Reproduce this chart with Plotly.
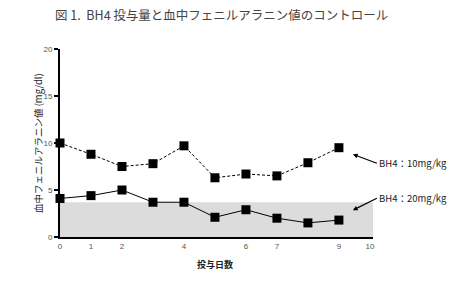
import plotly.graph_objects as go

days = [0, 1, 2, 3, 4, 5, 6, 7, 8, 9]
dose10 = [10.0, 8.8, 7.5, 7.8, 9.7, 6.3, 6.7, 6.5, 7.9, 9.5]
dose20 = [4.1, 4.4, 5.0, 3.7, 3.7, 2.1, 2.9, 2.0, 1.5, 1.8]
xticks = [0, 1, 2, 4, 6, 7, 9, 10]
yticks = [0, 5, 10, 15, 20]
normal_upper = 3.7

JP = "Noto Sans CJK JP"

fig = go.Figure()
fig.add_shape(type="rect", xref="x", yref="y", x0=0, x1=10.1, y0=0, y1=normal_upper,
              fillcolor="#dcdcdc", line=dict(width=0), layer="below")

fig.add_trace(go.Scatter(x=days, y=dose10, mode="lines+markers", cliponaxis=False,
                         line=dict(color="black", width=1, dash="3px,2px"),
                         marker=dict(symbol="square", size=9, color="black")))
fig.add_trace(go.Scatter(x=days, y=dose20, mode="lines+markers", cliponaxis=False,
                         line=dict(color="black", width=1),
                         marker=dict(symbol="square", size=9, color="black")))

fig.update_xaxes(range=[0, 10.1], tickvals=xticks, showline=True, linecolor="black",
                 linewidth=2, ticks="", showgrid=False, zeroline=False,
                 tickfont=dict(size=8, color="#555", family="Liberation Sans"))
fig.update_yaxes(range=[0, 20], tickvals=yticks, showline=True, linecolor="black",
                 linewidth=2, ticks="outside", ticklen=4, tickwidth=2, tickcolor="black",
                 showgrid=False, zeroline=False,
                 tickfont=dict(size=8, color="#555", family="Liberation Sans"))

annotations = [
    dict(text="図 1.  BH4 投与量と血中フェニルアラニン値のコントロール", xref="paper", yref="paper",
         x=(222 - 60) / 313, y=1, yshift=35, showarrow=False,
         font=dict(size=12.5, color="#444", family=JP), xanchor="center", yanchor="middle"),
    dict(text="血中フェニルアラニン値 (mg/dl)", xref="paper", yref="y", x=0, xshift=-31,
         y=10.0, textangle=-90, showarrow=False,
         font=dict(size=9.5, color="#222", family=JP)),
    dict(text="<b>投与日数</b>", xref="x", yref="paper", x=5.0, y=0, yshift=-27,
         yanchor="middle", showarrow=False,
         font=dict(size=9, color="#222", family=JP)),
    dict(text="BH4：10mg/kg", xref="x", yref="y", x=9.45, y=8.8, showarrow=True,
         ax=24, ay=9, arrowhead=2, arrowsize=0.8, arrowwidth=1.2, arrowcolor="black",
         xanchor="left", font=dict(size=9.5, color="#222", family=JP), standoff=0),
    dict(text="BH4：20mg/kg", xref="x", yref="y", x=9.45, y=2.85, showarrow=True,
         ax=24, ay=-12, arrowhead=2, arrowsize=0.8, arrowwidth=1.2, arrowcolor="black",
         xanchor="left", font=dict(size=9.5, color="#222", family=JP), standoff=0),
]
fig.update_layout(width=461, height=289, margin=dict(l=60, r=88, t=49, b=52),
                  plot_bgcolor="white", paper_bgcolor="white", showlegend=False,
                  annotations=annotations)
fig.write_html("out.html")
